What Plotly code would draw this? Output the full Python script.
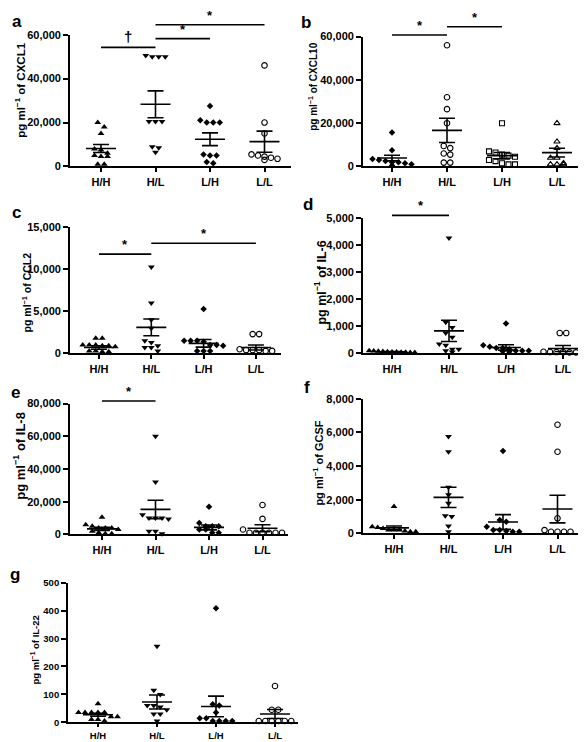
import plotly.graph_objects as go

W, H = 586, 742
FONT = "Arial, 'Liberation Sans', Helvetica, sans-serif"

categories = ["H/H", "H/L", "L/H", "L/L"]

# ---------------- data (pg/ml) ----------------
cxcl1_hh = [20000, 18000, 15000, 8000, 7500, 6000, 5000, 4500, 4500, 1000, 1000]
cxcl1_hl = [50500, 50000, 50000, 50000, 20500, 20500, 20500, 9000, 8500, 6500]
cxcl1_lh = [27500, 21000, 20000, 20000, 20000, 5500, 5000, 5000, 2000, 1500]
cxcl1_ll = [46000, 20000, 15000, 5500, 5000, 4500, 4000, 3500, 3000]
cxcl1_mean = [8200, 28300, 12400, 11300]
cxcl1_sem = [1800, 6100, 2900, 4800]
cxcl1_sig = [(0, 1, "†", 54200), (1, 2, "*", 58200), (1, 3, "*", 64500)]

cxcl10_hh = [15700, 7500, 3500, 3000, 2500, 2000, 2000, 1500, 1000, 500]
cxcl10_hl = [56000, 32000, 26500, 20000, 9500, 8500, 6000, 5500, 1800, 1800]
cxcl10_lh = [20000, 7000, 6500, 5500, 5000, 4500, 3000, 2500, 1500, 1000, 1000]
cxcl10_ll = [20000, 11500, 8500, 4000, 4000, 1500, 1000, 1000, 1000]
cxcl10_mean = [3900, 16700, 5000, 6400]
cxcl10_sem = [1300, 5600, 1500, 2000]
cxcl10_sig = [(0, 1, "*", 60760), (1, 2, "*", 64560)]

ccl2_hh = [1800, 1800, 1000, 1000, 1000, 900, 900, 800, 300, 300, 200, 200]
ccl2_hl = [10300, 6000, 4000, 3000, 1500, 1300, 900, 700, 700, 300]
ccl2_lh = [5300, 1500, 1500, 1500, 1400, 1000, 1000, 900, 300, 300, 300]
ccl2_ll = [2300, 2300, 500, 400, 400, 400, 300, 300]
ccl2_mean = [700, 3100, 1200, 700]
ccl2_sem = [200, 1000, 450, 300]
ccl2_sig = [(0, 1, "*", 11830), (1, 3, "*", 13120)]

il6_hh = [100, 90, 80, 70, 60, 50, 50, 40, 40, 30, 30]
il6_hl = [4250, 1150, 950, 750, 600, 350, 300, 150, 150, 100, 50]
il6_lh = [1100, 300, 250, 200, 200, 150, 100, 100, 100, 80, 60]
il6_ll = [750, 750, 60, 50, 50, 50, 40, 40, 30]
il6_mean = [60, 830, 220, 180]
il6_sem = [12, 390, 100, 110]
il6_sig = [(0, 1, "*", 5085)]

il8_hh = [10500, 6000, 5000, 4000, 4000, 4000, 3000, 2000, 1000, 500, 500]
il8_hl = [60000, 32000, 12000, 10000, 10000, 10000, 9500, 2000, 2000, 500]
il8_lh = [17000, 7000, 5000, 5000, 5000, 3000, 3000, 1000, 1000]
il8_ll = [18000, 9500, 3000, 1000, 1000, 1000, 1000, 1000, 1000]
il8_mean = [3400, 15300, 4300, 3800]
il8_sem = [900, 5600, 1500, 2100]
il8_sig = [(0, 1, "*", 81600)]

gcsf_hh = [1600, 400, 350, 300, 200, 200, 200, 150, 100, 100]
gcsf_hl = [5750, 4850, 2750, 2300, 1800, 1050, 1000, 450, 100]
gcsf_lh = [4900, 800, 700, 400, 200, 200, 150, 100, 100]
gcsf_ll = [6450, 4850, 900, 200, 100, 100, 100, 100]
gcsf_mean = [330, 2140, 680, 1450]
gcsf_sem = [110, 600, 440, 820]
gcsf_sig = []

il22_hh = [67, 35, 35, 35, 35, 35, 20, 20, 10, 10, 5]
il22_hl = [272, 115, 100, 60, 60, 55, 45, 30, 30, 5]
il22_lh = [408, 65, 60, 35, 15, 15, 5, 5, 5, 5]
il22_ll = [130, 45, 45, 5, 5, 5, 5, 5, 5]
il22_mean = [27, 73, 57, 30]
il22_sem = [5, 25, 37, 16]
il22_sig = []

# ---------------- styles / geometry ----------------
STD_MARKERS = [("triangle-up", True), ("triangle-down", True), ("diamond", True), ("circle-open", False)]
B_MARKERS = [("diamond", True), ("circle-open", False), ("square-open", False), ("triangle-up-open", False)]
MARKER_SIZE = {"triangle-up": 6, "triangle-down": 6, "diamond": 5, "circle-open": 5.5,
               "square-open": 5, "triangle-up-open": 5.5}

panels = [
    dict(letter="a", groups=[cxcl1_hh, cxcl1_hl, cxcl1_lh, cxcl1_ll], mean=cxcl1_mean, sem=cxcl1_sem,
         sig=cxcl1_sig, top=60000, dtick=20000, name="CXCL1", markers=STD_MARKERS,
         geom=(62, 283, 93, 54.5, 21, 155), title_xy=(12, 78), title_size=11.5, tick_size=11,
         letter_xy=(9, 8)),
    dict(letter="b", groups=[cxcl10_hh, cxcl10_hl, cxcl10_lh, cxcl10_ll], mean=cxcl10_mean, sem=cxcl10_sem,
         sig=cxcl10_sig, top=60000, dtick=20000, name="CXCL10", markers=B_MARKERS,
         geom=(355, 573, 384, 55, 23, 155), title_xy=(305, 74), title_size=10, tick_size=11,
         letter_xy=(298, 9)),
    dict(letter="c", groups=[ccl2_hh, ccl2_hl, ccl2_lh, ccl2_ll], mean=ccl2_mean, sem=ccl2_sem,
         sig=ccl2_sig, top=15000, dtick=5000, name="CCL2", markers=STD_MARKERS,
         geom=(62, 273, 91, 52.3, 217, 345), title_xy=(18, 283), title_size=10.5, tick_size=11,
         letter_xy=(8, 202)),
    dict(letter="d", groups=[il6_hh, il6_hl, il6_lh, il6_ll], mean=il6_mean, sem=il6_sem,
         sig=il6_sig, top=5000, dtick=1000, name="IL-6", markers=STD_MARKERS,
         geom=(355, 580, 384, 57, 207, 345), title_xy=(312, 273), title_size=12.5, tick_size=11,
         letter_xy=(300, 194)),
    dict(letter="e", groups=[il8_hh, il8_hl, il8_lh, il8_ll], mean=il8_mean, sem=il8_sem,
         sig=il8_sig, top=80000, dtick=20000, name="IL-8", markers=STD_MARKERS,
         geom=(62, 280, 94, 53.5, 396, 529), title_xy=(11, 449), title_size=13, tick_size=11,
         letter_xy=(7, 385)),
    dict(letter="f", groups=[gcsf_hh, gcsf_hl, gcsf_lh, gcsf_ll], mean=gcsf_mean, sem=gcsf_sem,
         sig=gcsf_sig, top=8000, dtick=2000, name="GCSF", markers=STD_MARKERS,
         geom=(355, 575, 386, 54.5, 391, 528), title_xy=(310, 457), title_size=11, tick_size=11,
         letter_xy=(299, 380)),
    dict(letter="g", groups=[il22_hh, il22_hl, il22_lh, il22_ll], mean=il22_mean, sem=il22_sem,
         sig=il22_sig, top=500, dtick=100, name="IL-22", markers=STD_MARKERS,
         geom=(60, 290, 90, 59, 578, 720), title_xy=(27, 647), title_size=9.5, tick_size=9.5,
         letter_xy=(7, 570)),
]


def swarm(values, top, hpx, s, d=6.5, maxw=0.8):
    """Prism-like horizontal scatter: points whose pixel heights are close share a row."""
    px = [v / top * hpx for v in values]
    order = sorted(range(len(values)), key=lambda i: -px[i])
    rows, cur = [], []
    for i in order:
        if cur and px[cur[0]] - px[i] > d * 0.85:
            rows.append(cur)
            cur = []
        cur.append(i)
    if cur:
        rows.append(cur)
    offs = [0.0] * len(values)
    for row in rows:
        k = len(row)
        step = d
        if k > 1 and (k - 1) * step > maxw * s:
            step = maxw * s / (k - 1)
        for j, i in enumerate(row):
            offs[i] = (j - (k - 1) / 2) * step / s
    return offs


fig = go.Figure()
annotations = []
shapes = []
layout_axes = {}

for n, p in enumerate(panels, start=1):
    sx = "" if n == 1 else str(n)
    xa, ya = "x" + sx, "y" + sx
    x0, x1, cat0, s, ytop, ybot = p["geom"]
    hpx = ybot - ytop
    top = p["top"]

    for gi, vals in enumerate(p["groups"]):
        sym, filled = p["markers"][gi]
        offs = swarm(vals, top, hpx, s)
        fig.add_trace(go.Scatter(
            x=[gi + o for o in offs], y=vals, xaxis=xa, yaxis=ya, mode="markers",
            cliponaxis=False, showlegend=False, hoverinfo="skip",
            marker=dict(symbol=sym, size=MARKER_SIZE[sym], color="black",
                        line=dict(color="black", width=0 if filled else 1.1)),
        ))
        m, se = p["mean"][gi], p["sem"][gi]
        mw, cw = 15.0 / s, 8.0 / s
        fig.add_trace(go.Scatter(
            x=[gi - mw, gi + mw, None, gi, gi, None, gi - cw, gi + cw, None, gi - cw, gi + cw],
            y=[m, m, None, m - se, m + se, None, m + se, m + se, None, m - se, m - se],
            xaxis=xa, yaxis=ya, mode="lines", showlegend=False, hoverinfo="skip",
            line=dict(color="black", width=1.6),
        ))

    for (i, j, sym, val) in p["sig"]:
        yd = val / top
        shapes.append(dict(type="line", xref=xa, yref=ya + " domain", x0=i, x1=j, y0=yd, y1=yd,
                           line=dict(color="black", width=1.6)))
        annotations.append(dict(x=(i + j) / 2, y=yd, xref=xa, yref=ya + " domain", text=sym,
                                showarrow=False, xanchor="center", yanchor="bottom", yshift=0,
                                font=dict(family=FONT, size=15 if sym == "†" else 13,
                                          color="black", weight="bold")))

    layout_axes["xaxis" + sx] = dict(
        domain=[x0 / W, x1 / W], range=[(x0 - cat0) / s, (x1 - cat0) / s], anchor=ya,
        tickmode="array", tickvals=[0, 1, 2, 3], ticktext=categories,
        showline=True, linecolor="black", linewidth=1.8, ticks="outside", ticklen=3 if n == 7 else 4,
        tickwidth=1.5, tickcolor="black", showgrid=False, zeroline=False, fixedrange=True,
        tickfont=dict(family=FONT, size=p["tick_size"], color="black", weight="bold"),
    )
    layout_axes["yaxis" + sx] = dict(
        domain=[1 - ybot / H, 1 - ytop / H], range=[0, top], anchor=xa,
        tickmode="linear", tick0=0, dtick=p["dtick"], tickformat=",d",
        showline=True, linecolor="black", linewidth=1.8, ticks="outside", ticklen=5,
        tickwidth=1.5, tickcolor="black", showgrid=False, zeroline=False, fixedrange=True,
        tickfont=dict(family=FONT, size=p["tick_size"], color="black", weight="bold"),
    )

    tx, ty = p["title_xy"]
    annotations.append(dict(x=tx / W, y=1 - ty / H, xref="paper", yref="paper",
                            text="pg ml<sup>−1</sup> of " + p["name"], textangle=-90,
                            showarrow=False, xanchor="center", yanchor="middle",
                            font=dict(family=FONT, size=p["title_size"], color="black", weight="bold")))
    lx, ly = p["letter_xy"]
    annotations.append(dict(x=lx / W, y=1 - ly / H, xref="paper", yref="paper", text=p["letter"],
                            showarrow=False, xanchor="center", yanchor="middle",
                            font=dict(family=FONT, size=17, color="black", weight="bold")))

fig.update_layout(
    width=W, height=H, margin=dict(l=0, r=0, t=0, b=0),
    paper_bgcolor="white", plot_bgcolor="white",
    showlegend=False, annotations=annotations, shapes=shapes,
    font=dict(family=FONT, color="black"),
    **layout_axes,
)

fig.write_html("out.html")
